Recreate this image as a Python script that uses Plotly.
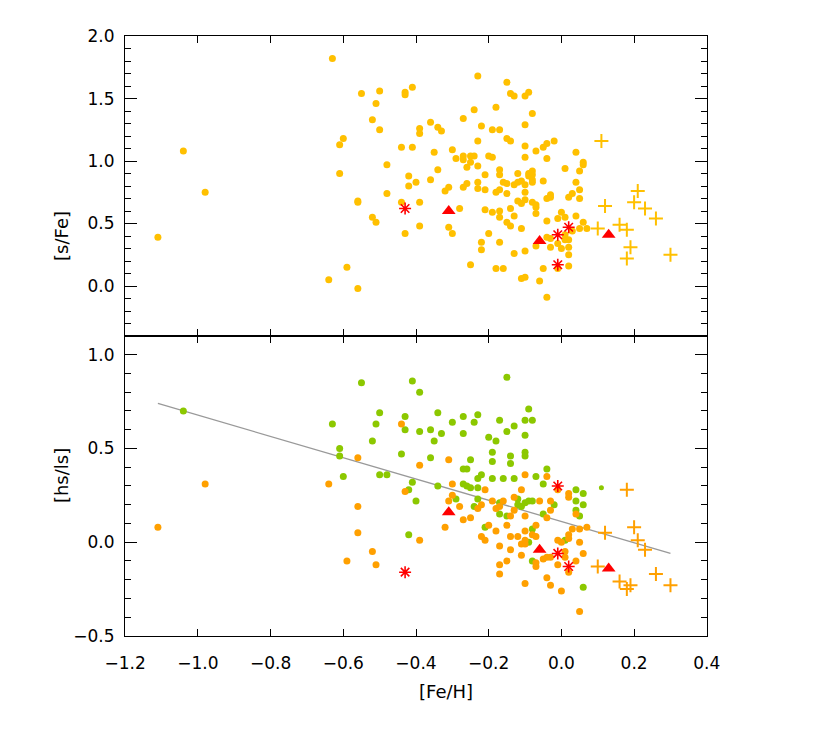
import plotly.graph_objects as go
from plotly.subplots import make_subplots

# ---------------- Top panel: [s/Fe] vs [Fe/H] ----------------
top_dots_feh = [-1.11, -1.04, -0.98, -0.63, -0.64, -0.61, -0.60, -0.61, -0.59, -0.56, -0.56, -0.56,
                -0.55, -0.52, -0.52, -0.51, -0.51, -0.50, -0.50, -0.48, -0.48, -0.44, -0.44, -0.43,
                -0.43, -0.43, -0.42, -0.42,
                -0.41, -0.41, -0.40, -0.39, -0.39, -0.39, -0.39, -0.36, -0.36, -0.35, -0.34, -0.33,
                -0.34, -0.32, -0.31, -0.30, -0.29, -0.28, -0.31, -0.30, -0.27, -0.27, -0.27, -0.26,
                -0.27, -0.26, -0.25, -0.24, -0.25, -0.25, -0.23, -0.24, -0.23, -0.23, -0.23, -0.23,
                -0.22, -0.22, -0.22, -0.21, -0.21, -0.21, -0.20, -0.19, -0.20, -0.19, -0.19, -0.18,
                -0.18, -0.18, -0.17, -0.17, -0.17, -0.17, -0.17, -0.17, -0.17, -0.16, -0.16, -0.15,
                -0.15, -0.15, -0.15, -0.14, -0.15, -0.14, -0.14, -0.14, -0.13, -0.13, -0.13, -0.13,
                -0.12, -0.12, -0.12, -0.11, -0.11, -0.11, -0.11, -0.10, -0.10, -0.09, -0.10, -0.10,
                -0.10, -0.10, -0.10, -0.10, -0.10,
                -0.09, -0.09, -0.08, -0.08, -0.08, -0.08,
                -0.08, -0.08, -0.07, -0.07, -0.07, -0.07, -0.07, -0.05, -0.05, -0.05, -0.06, -0.04,
                -0.04, -0.04, -0.04, -0.04, -0.03, -0.03, -0.03, -0.03, -0.04, -0.02, -0.01, -0.01,
                -0.01, 0.00, 0.00, 0.01, 0.01, 0.01, 0.01, 0.02, 0.02, 0.02, 0.02, 0.02, 0.03, 0.03,
                0.04, 0.04, 0.04, 0.05, 0.05, 0.05, 0.05, 0.06, 0.06, 0.06, 0.07]
top_dots_sfe = [0.39, 1.08, 0.75, 1.82, 0.05, 1.13, 1.18, 0.90, 0.15, 0.68, 0.67, -0.02,
                1.54, 1.33, 0.55, 1.46, 0.51, 1.56, 1.25, 0.97, 0.74, 1.11, 0.67, 1.55,
                1.53, 0.42, 0.88, 0.80,
                1.59, 1.11, 0.83, 1.26, 1.22, 0.67, 0.48, 1.31, 0.85, 1.07, 1.27, 1.24,
                0.93, 0.76, 0.79, 1.09, 1.02, 0.62, 0.47, 0.42, 1.34, 1.04, 1.01, 0.95,
                0.79, 0.82, 1.04, 1.04, 0.99, 0.17, 1.68, 1.41, 1.16, 0.96, 0.83, 0.78,
                1.28, 0.35, 0.29, 0.89, 0.77, 0.61, 1.04, 1.03, 0.42, 1.25, 0.59, 1.43,
                0.75, 0.14, 1.25, 0.93, 0.89, 0.77, 0.60, 0.55, 0.35, 0.83, 0.14, 1.63,
                0.82, 0.74, 1.18, 1.16, 0.51, 0.62, 0.48, 1.54, 1.52, 0.81, 0.56, 0.26,
                0.83, 0.90, 0.68, 0.66, 0.84, 0.46, 0.06, 0.07, 1.52, 1.55, 1.29, 1.12,
                1.03, 0.81, 0.75, 0.69, 0.28,
                0.90, 0.88, 0.92, 0.89, 0.85, 0.83,
                1.38, 0.67, 0.65, 0.63, 0.58, 1.08, 0.32, 1.11, 0.84, 0.14, 0.04, 1.14,
                1.02, 0.70, 0.52, 0.39, 0.73, 0.71, 0.38, 0.31, -0.09, 1.16, 0.54, 0.34,
                0.14, 0.59, 0.30, 0.94, 0.55, 0.41, 0.37, 0.71, 0.37, 0.31, 0.25, 0.16, 0.44, 0.74,
                1.07, 0.83, 0.56, 0.92, 0.77, 0.70, 0.46, 0.99, 0.97, 0.51, 0.46]

top_plus_feh = [0.10, 0.11, 0.12, 0.16, 0.18, 0.19, 0.18, 0.20, 0.21, 0.23, 0.26, 0.30]
top_plus_sfe = [0.46, 1.16, 0.64, 0.49, 0.45, 0.31, 0.22, 0.67, 0.76, 0.62, 0.54, 0.25]

top_tri_feh = [-0.31, -0.06, 0.13]
top_tri_sfe = [0.60, 0.36, 0.41]

top_ast_feh = [-0.43, -0.01, -0.01, 0.02]
top_ast_sfe = [0.62, 0.41, 0.17, 0.47]

# ---------------- Bottom panel: [hs/ls] vs [Fe/H] ----------------
bot_green_feh = [-1.04, -0.63, -0.61, -0.61, -0.60, -0.55, -0.52, -0.51, -0.50, -0.50, -0.48, -0.44,
                 -0.43, -0.43, -0.42, -0.42, -0.41, -0.39, -0.41, -0.40, -0.39, -0.36, -0.35, -0.36,
                 -0.34, -0.33, -0.34, -0.29, -0.30, -0.27, -0.27, -0.27, -0.26, -0.27, -0.26, -0.25,
                 -0.25, -0.24, -0.23, -0.23, -0.22, -0.23, -0.23, -0.24, -0.21, -0.20, -0.18, -0.19,
                 -0.19, -0.19, -0.17, -0.17, -0.17, -0.16, -0.15, -0.15, -0.15, -0.14, -0.14, -0.13,
                 -0.13, -0.12, -0.12, -0.11, -0.10, -0.09, -0.08, -0.10, -0.10, -0.10, -0.10, -0.09,
                 -0.08, -0.09, -0.08, -0.08, -0.07, -0.05, -0.05, -0.04, -0.02, 0.01, 0.04, 0.04,
                 0.04, 0.05, 0.06, 0.06, 0.06]
bot_green_hsls = [0.70, 0.63, 0.50, 0.46, 0.35, 0.85, 0.54, 0.63, 0.69, 0.36, 0.36, 0.47,
                  0.67, 0.60, 0.28, 0.04, 0.86, 0.80, 0.32, 0.22, 0.59, 0.60, 0.54, 0.45,
                  0.69, 0.58, 0.30, 0.23, 0.64, 0.67, 0.58, 0.39, 0.39, 0.31, 0.30, 0.29,
                  0.44, 0.64, 0.68, 0.34, 0.36, 0.29, 0.23, 0.19, 0.08, 0.56, 0.54, 0.48,
                  0.43, 0.34, 0.65, 0.21, 0.15, 0.34, 0.88, 0.59, 0.14, 0.46, 0.42, 0.62,
                  0.34, 0.23, 0.20, 0.19, 0.21, 0.22, 0.22, 0.65, 0.57, 0.48, 0.46, 0.71,
                  0.65, 0.00, 0.07, -0.10, 0.35, 0.31, 0.15, 0.39, 0.20, 0.01, 0.28, 0.22,
                  0.17, 0.14, 0.26, 0.20, -0.24]

bot_small_green_feh = [0.11]
bot_small_green_hsls = [0.29]

bot_orange_feh = [-1.11, -0.98, -0.64, -0.59, -0.56, -0.56, -0.56, -0.52, -0.51, -0.44, -0.43, -0.39,
                  -0.39, -0.31, -0.30, -0.30, -0.31, -0.32, -0.28, -0.27, -0.25, -0.23, -0.22, -0.21,
                  -0.22, -0.21, -0.20, -0.19, -0.18, -0.18, -0.17, -0.17, -0.17, -0.17, -0.16, -0.15,
                  -0.15, -0.14, -0.14, -0.14, -0.13, -0.13, -0.12, -0.11, -0.11, -0.11, -0.10, -0.10,
                  -0.10, -0.10, -0.10, -0.10, -0.08, -0.07, -0.07, -0.07, -0.07, -0.06, -0.05, -0.04,
                  -0.03, -0.04, -0.04, -0.04, -0.03, -0.03, -0.03, -0.01, -0.01, -0.01, 0.00, 0.00,
                  0.01, 0.01, 0.02, 0.02, 0.02, 0.02, 0.02, 0.03, 0.04, 0.04, 0.05, 0.05, 0.05, 0.06,
                  0.07]
bot_orange_hsls = [0.08, 0.31, 0.31, -0.10, 0.45, 0.19, 0.05, -0.05, -0.12, 0.63, 0.27, 0.41,
                   0.01, 0.44, 0.31, 0.25, 0.22, 0.08, 0.19, 0.12, 0.13, 0.18, 0.20, 0.28,
                   0.03, 0.01, 0.09, 0.22, 0.18, 0.06, 0.19, -0.02, -0.12, -0.17, 0.22, 0.09,
                   -0.10, 0.14, 0.03, -0.04, 0.24, 0.17, 0.03, 0.28, -0.01, -0.07, 0.36, 0.14,
                   0.06, 0.01, -0.01, -0.22, 0.04, 0.09, 0.03, -0.11, -0.13, 0.22, -0.09, -0.08,
                   -0.08, 0.35, 0.13, -0.19, 0.22, 0.17, -0.23, 0.28, 0.01, -0.12, 0.00, -0.26,
                   -0.05, -0.08, 0.26, 0.24, 0.04, 0.02, -0.16, 0.07, 0.15, -0.10, 0.07, 0.00, -0.37,
                   -0.06, 0.08]

bot_plus_feh = [0.18, 0.10, 0.12, 0.16, 0.18, 0.19, 0.20, 0.21, 0.23, 0.26, 0.30]
bot_plus_hsls = [0.28, -0.13, 0.05, -0.21, -0.25, -0.23, 0.08, 0.01, -0.04, -0.17, -0.23]

bot_tri_feh = [-0.31, -0.06, 0.13]
bot_tri_hsls = [0.16, -0.04, -0.14]

bot_ast_feh = [-0.43, -0.01, -0.01, 0.02]
bot_ast_hsls = [-0.16, 0.30, -0.06, -0.13]

fit_feh = [-1.11, 0.30]
fit_hsls = [0.74, -0.06]

x_ticks = [-1.2, -1.0, -0.8, -0.6, -0.4, -0.2, 0.0, 0.2, 0.4]

# ---------------- styles ----------------
GOLD = "#FFC000"
ORANGE = "#FFA000"
GREEN = "#8CC800"
RED = "#FF0000"
FONT = "DejaVu Sans"

fig = make_subplots(rows=2, cols=1, shared_xaxes=False, vertical_spacing=0)

dot = dict(size=7, line=dict(width=0))

# top panel
fig.add_trace(go.Scatter(x=top_dots_feh, y=top_dots_sfe, mode="markers",
                         marker=dict(color=GOLD, **dot)), row=1, col=1)
fig.add_trace(go.Scatter(x=top_plus_feh, y=top_plus_sfe, mode="markers",
                         marker=dict(symbol="cross-thin", size=10, color=GOLD,
                                     line=dict(color=GOLD, width=2))), row=1, col=1)
fig.add_trace(go.Scatter(x=top_tri_feh, y=top_tri_sfe, mode="markers",
                         marker=dict(symbol="triangle-up", size=12, color=RED,
                                     line=dict(width=0))), row=1, col=1)
fig.add_trace(go.Scatter(x=top_ast_feh, y=top_ast_sfe, mode="markers",
                         marker=dict(symbol="asterisk-open", size=10, color=RED,
                                     line=dict(color=RED, width=1.6))), row=1, col=1)

# bottom panel
fig.add_trace(go.Scatter(x=fit_feh, y=fit_hsls, mode="lines",
                         line=dict(color="#999999", width=1.3)), row=2, col=1)
fig.add_trace(go.Scatter(x=bot_green_feh, y=bot_green_hsls, mode="markers",
                         marker=dict(color=GREEN, **dot)), row=2, col=1)
fig.add_trace(go.Scatter(x=bot_small_green_feh, y=bot_small_green_hsls, mode="markers",
                         marker=dict(color=GREEN, size=5, line=dict(width=0))), row=2, col=1)
fig.add_trace(go.Scatter(x=bot_orange_feh, y=bot_orange_hsls, mode="markers",
                         marker=dict(color=ORANGE, **dot)), row=2, col=1)
fig.add_trace(go.Scatter(x=bot_plus_feh, y=bot_plus_hsls, mode="markers",
                         marker=dict(symbol="cross-thin", size=10, color=ORANGE,
                                     line=dict(color=ORANGE, width=2))), row=2, col=1)
fig.add_trace(go.Scatter(x=bot_tri_feh, y=bot_tri_hsls, mode="markers",
                         marker=dict(symbol="triangle-up", size=12, color=RED,
                                     line=dict(width=0))), row=2, col=1)
fig.add_trace(go.Scatter(x=bot_ast_feh, y=bot_ast_hsls, mode="markers",
                         marker=dict(symbol="asterisk-open", size=10, color=RED,
                                     line=dict(color=RED, width=1.6))), row=2, col=1)

tickfont = dict(family=FONT, size=17, color="black")

xcommon = dict(range=[-1.2005, 0.4005], tickvals=x_ticks, ticks="inside", ticklen=7,
               tickwidth=1, tickcolor="black", showline=True, linecolor="black",
               linewidth=1, mirror="ticks", showgrid=False, zeroline=False,
               tickfont=tickfont, tickformat=".1f")
ycommon = dict(ticks="inside", ticklen=12, tickwidth=1, tickcolor="black",
               showline=True, linecolor="black", linewidth=1, mirror="ticks",
               showgrid=False, zeroline=False, tickfont=tickfont, tickformat=".1f",
               minor=dict(dtick=0.1, ticklen=6, ticks="inside", tickcolor="black",
                          tickwidth=1, showgrid=False))

# the page body adds an 8 px offset, so margins are shifted to keep the
# plot frame at x 125..707, y 36..636 of the window
fig.update_layout(
    xaxis=dict(xcommon, domain=[0, 1], showticklabels=False, anchor="y"),
    xaxis2=dict(xcommon, domain=[0, 1], showticklabels=True, anchor="y2",
                ticklabelstandoff=12),
    yaxis=dict(ycommon, domain=[0.5, 1], range=[-0.4, 2.0005], tick0=0, dtick=0.5,
               ticklabelstandoff=6),
    yaxis2=dict(ycommon, domain=[0, 0.5], range=[-0.5005, 1.1], tick0=0, dtick=0.5,
                ticklabelstandoff=6),
    width=830, height=748,
    margin=dict(l=117, r=131, t=28, b=120),
    paper_bgcolor="white", plot_bgcolor="white",
    showlegend=False,
    font=dict(family=FONT, color="black"),
    annotations=[
        dict(text="[Fe/H]", xref="paper", yref="paper", x=0.5515, y=-0.0933,
             xanchor="center", yanchor="middle", showarrow=False,
             font=dict(family=FONT, size=18, color="black")),
        dict(text="[s/Fe]", xref="paper", yref="paper", x=-0.108, y=0.667,
             xanchor="center", yanchor="middle", showarrow=False, textangle=-90,
             font=dict(family=FONT, size=18, color="black")),
        dict(text="[hs/ls]", xref="paper", yref="paper", x=-0.108, y=0.2667,
             xanchor="center", yanchor="middle", showarrow=False, textangle=-90,
             font=dict(family=FONT, size=18, color="black")),
    ],
)

fig.write_html("out.html")
